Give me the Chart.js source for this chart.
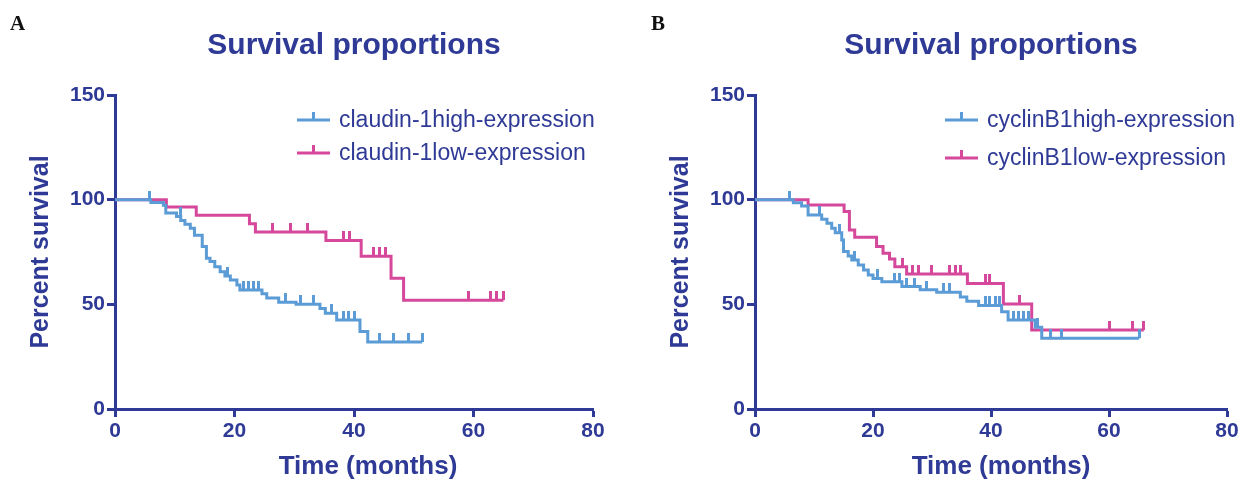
<!DOCTYPE html>
<html>
<head>
<meta charset="utf-8">
<script src="https://cdn.jsdelivr.net/npm/chart.js@4"></script>
<style>
  body { margin: 0; background: #fff; }
  #wrap { position: relative; width: 1250px; height: 483px; }
  canvas { position: absolute; top: 0; }
</style>
</head>
<body>
<div id="wrap">
  <canvas id="chartA" width="625" height="483" style="left:0"></canvas>
  <canvas id="chartB" width="625" height="483" style="left:625px"></canvas>
</div>
<script>
// tick values
var xTicks = [0, 20, 40, 60, 80];
var yTicks = [0, 50, 100, 150];

// panel A - claudin-1
var claudinHighT = [0, 6, 8.1, 8.5, 10.3, 11, 11.7, 12.6, 13.3, 14.6, 15.3, 15.9, 16.7, 17.6, 18.4, 19.3, 20.4, 20.9, 24.6, 25.4, 27.4, 30.3, 34.3, 35.2, 37.1, 41, 42.3];
var claudinHighS = [100, 98.7, 97.3, 93.6, 92, 90, 88.3, 86.4, 83, 77.6, 72, 70.5, 68, 65.6, 63.5, 61.6, 59.2, 56.9, 55, 53, 51, 50, 48, 45.7, 42.5, 37, 32];
var claudinHighCensor = [5.7, 10.9, 18.8, 21.5, 22.3, 23.2, 24.0, 28.5, 31, 33.2, 36.3, 38.2, 39.1, 40, 44.3, 46.6, 49.1, 51.4];

var claudinLowT = [0, 8.6, 13.6, 22.5, 23.5, 35.3, 41.2, 46.2, 48.3];
var claudinLowS = [100, 96.5, 92.5, 88.5, 84.5, 80.5, 73, 62.5, 52];
var claudinLowCensor = [26.4, 29.4, 32.3, 38.2, 39.2, 43.3, 44.2, 45.2, 59.1, 62.9, 63.9, 65];

// panel B - cyclinB1
var cyclinHighT = [0, 6.5, 7.9, 9, 11.3, 12.2, 13, 13.6, 14.7, 15, 15.8, 16.4, 17.5, 18.4, 19.2, 20, 21.5, 24.9, 28, 30.8, 34.8, 35.9, 37.9, 41.8, 42.9, 47.5, 48.6];
var cyclinHighS = [100, 98.5, 97, 92.7, 90.6, 88.7, 86.3, 84.2, 80.7, 75.2, 73.1, 71.2, 68.8, 66.4, 64, 62.4, 60.8, 58.5, 57, 55.8, 53.5, 51.5, 49.5, 46.5, 42.5, 39, 33.8];
var cyclinHighCensor = [5.9, 11, 14.3, 16.9, 20.8, 23.7, 24.5, 25.7, 27, 29.1, 31.9, 33, 39, 39.8, 40.7, 41.4, 43.8, 44.6, 45.5, 46.3, 47.9, 50, 52, 65.1];

var cyclinLowT = [0, 9, 15.1, 16, 16.9, 20.6, 21.7, 22.8, 23.7, 25.7, 36, 42.1, 46.9];
var cyclinLowS = [100, 97.5, 94.3, 85.5, 82, 77.6, 74.4, 71.7, 68, 64.5, 60, 50.2, 37.7];
var cyclinLowCensor = [25, 26.7, 27.7, 29.9, 33, 33.9, 34.9, 39, 39.8, 44.9, 60.1, 63.9, 65.9];

var axisColor = '#2E3A96';
var blue = '#5B9BD6';
var pink = '#D5489B';
var fontFamily = "'Liberation Sans', Arial, sans-serif";

// value of the step curve at time t
function survivalAt(times, surv, t) {
  var s = surv[0];
  for (var i = 0; i < times.length; i++) {
    if (times[i] <= t) s = surv[i];
  }
  return s;
}

function stepPoints(times, surv, censor) {
  var pts = times.map(function(t, i) { return {x: t, y: surv[i]}; });
  var endT = Math.max(times[times.length - 1], censor[censor.length - 1]);
  pts.push({x: endT, y: surv[surv.length - 1]});
  return pts;
}

function censorPoints(times, surv, censor) {
  return censor.map(function(t) { return {x: t, y: survivalAt(times, surv, t)}; });
}

// small upward tick used as censor marker
function tickImage(color) {
  var c = document.createElement('canvas');
  c.width = 3; c.height = 18;
  var g = c.getContext('2d');
  g.fillStyle = color;
  g.fillRect(0, 0, 3, 9);
  return c;
}

var decorPlugin = {
  id: 'decor',
  afterDraw: function(chart) {
    var o = chart.options.plugins.decor;
    var ctx = chart.ctx;
    var area = chart.chartArea;
    ctx.save();
    // panel letter
    ctx.fillStyle = '#111';
    ctx.font = "bold 21px 'Liberation Serif', 'Times New Roman', serif";
    ctx.textBaseline = 'middle';
    ctx.textAlign = 'left';
    ctx.fillText(o.letter, o.letterX, 25);
    // title
    ctx.fillStyle = axisColor;
    ctx.font = 'bold 30px ' + fontFamily;
    ctx.textAlign = 'center';
    ctx.fillText('Survival proportions', (area.left + area.right) / 2, 46);
    // x axis title
    ctx.font = 'bold 26px ' + fontFamily;
    ctx.fillText('Time (months)', (area.left + area.right) / 2 + o.xTitleShift, 467);
    // legend
    ctx.font = '23px ' + fontFamily;
    ctx.textAlign = 'left';
    o.legend.forEach(function(item, i) {
      var y = o.legendY[i];
      ctx.strokeStyle = item.color;
      ctx.lineWidth = 3;
      ctx.beginPath();
      ctx.moveTo(o.legendX, y);
      ctx.lineTo(o.legendX + 33, y);
      ctx.moveTo(o.legendX + 16.5, y);
      ctx.lineTo(o.legendX + 16.5, y - 8);
      ctx.stroke();
      ctx.fillStyle = axisColor;
      ctx.fillText(item.label, o.legendX + 42, y + 1);
    });
    ctx.restore();
  }
};

function makeChart(id, opts) {
  var datasets = [];
  opts.series.forEach(function(s) {
    datasets.push({
      data: stepPoints(s.t, s.s, s.censor),
      borderColor: s.color,
      borderWidth: 3,
      stepped: 'before',
      pointRadius: 0,
      fill: false
    });
    datasets.push({
      data: censorPoints(s.t, s.s, s.censor),
      showLine: false,
      pointStyle: tickImage(s.color),
      pointRadius: 5
    });
  });

  return new Chart(document.getElementById(id), {
    type: 'line',
    data: { datasets: datasets },
    plugins: [decorPlugin],
    options: {
      responsive: false,
      animation: false,
      events: [],
      layout: { padding: { top: 95, right: opts.padRight, bottom: 0, left: 0 } },
      plugins: {
        legend: { display: false },
        tooltip: { enabled: false },
        decor: {
          letter: opts.letter, letterX: opts.letterX, xTitleShift: opts.xTitleShift,
          legendX: opts.legendX, legendY: opts.legendY,
          legend: opts.series.map(function(s) { return {label: s.label, color: s.color}; })
        }
      },
      scales: {
        x: {
          type: 'linear', min: 0, max: 80,
          afterBuildTicks: function(s) { s.ticks = xTicks.map(function(v) { return {value: v}; }); },
          afterFit: function(s) { s.height = 74; },
          ticks: { color: axisColor, font: { family: fontFamily, size: 21, weight: 'bold' }, padding: 2 },
          grid: { drawOnChartArea: false, tickLength: 8, tickWidth: 3, tickColor: axisColor },
          border: { color: axisColor, width: 3 }
        },
        y: {
          type: 'linear', min: 0, max: 150,
          afterBuildTicks: function(s) { s.ticks = yTicks.map(function(v) { return {value: v}; }); },
          afterFit: function(s) { s.width = opts.yWidth; },
          ticks: { color: axisColor, font: { family: fontFamily, size: 21, weight: 'bold' }, padding: 2 },
          grid: { drawOnChartArea: false, tickLength: 8, tickWidth: 3, tickColor: axisColor },
          border: { color: axisColor, width: 3 },
          title: { display: true, text: 'Percent survival', color: axisColor,
                   font: { family: fontFamily, size: 25, weight: 'bold' }, padding: { top: opts.yTitlePad, bottom: 0 } }
        }
      }
    }
  });
}

makeChart('chartA', {
  letter: 'A', letterX: 10, xTitleShift: 14,
  yWidth: 115, padRight: 32, yTitlePad: 26,
  legendX: 297, legendY: [120, 153],
  series: [
    { label: 'claudin-1high-expression', color: blue, t: claudinHighT, s: claudinHighS, censor: claudinHighCensor },
    { label: 'claudin-1low-expression', color: pink, t: claudinLowT, s: claudinLowS, censor: claudinLowCensor }
  ]
});

makeChart('chartB', {
  letter: 'B', letterX: 26, xTitleShift: 10,
  yWidth: 130, padRight: 23, yTitlePad: 41,
  legendX: 320, legendY: [120, 158],
  series: [
    { label: 'cyclinB1high-expression', color: blue, t: cyclinHighT, s: cyclinHighS, censor: cyclinHighCensor },
    { label: 'cyclinB1low-expression', color: pink, t: cyclinLowT, s: cyclinLowS, censor: cyclinLowCensor }
  ]
});
</script>
</body>
</html>
